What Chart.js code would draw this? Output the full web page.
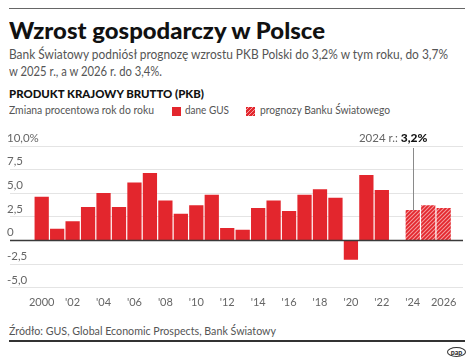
<!DOCTYPE html>
<html lang="pl">
<head>
<meta charset="utf-8">
<script src="https://cdn.jsdelivr.net/npm/chart.js@4/dist/chart.umd.min.js"></script>
<style>
  body { margin: 0; background: #fff; font-family: Lato, "Open Sans", sans-serif; }
  #page { position: relative; width: 474px; height: 364px; overflow: hidden; background: #fff; }
  .t { position: absolute; left: 9px; white-space: nowrap; transform-origin: 0 0; display: inline-block; }
  .rule { position: absolute; left: 9px; width: 456px; }
  #title { top: 16px; font-size: 23px; line-height: 28px; font-weight: 900; color: #111; }
  .sub { font-size: 13px; line-height: 17px; color: #555; }
  #head { top: 87px; font-size: 11px; line-height: 13px; font-weight: 900; color: #111; }
  .leg { top: 103px; font-size: 12px; line-height: 14px; color: #555; }
  .sq { position: absolute; top: 106.5px; width: 9px; height: 9px; }
  #source { top: 324px; font-size: 12px; line-height: 14px; color: #555; }
  #pap { position: absolute; left: 447px; top: 347px; width: 17px; height: 8px; border: 1.5px solid #333;
         border-radius: 50%; font: 900 7px/8px Lato, sans-serif; color: #333; text-align: center; }
  #box { position: absolute; left: 0; top: 128px; width: 474px; height: 190px; }
</style>
</head>
<body>
<div id="page">
  <div class="rule" style="top:8px;height:1px;background:#666;"></div>
  <div class="t" id="title" data-w="316">Wzrost gospodarczy w Polsce</div>
  <div class="t sub" style="top:46px" data-w="439">Bank Światowy podniósł prognozę wzrostu PKB Polski do 3,2% w tym roku, do 3,7%</div>
  <div class="t sub" style="top:63px" data-w="153">w 2025 r., a w 2026 r. do 3,4%.</div>
  <div class="t" id="head" data-w="195">PRODUKT KRAJOWY BRUTTO (PKB)</div>
  <div class="t leg" style="left:9px" data-w="145">Zmiana procentowa rok do roku</div>
  <div class="sq" style="left:172px;background:#e3262d;"></div>
  <div class="t leg" style="left:185px" data-w="44">dane GUS</div>
  <div class="sq" style="left:246px;background:repeating-linear-gradient(135deg,#e3262d 0 1.6px,#f4a0a2 1.6px 2.8px);"></div>
  <div class="t leg" style="left:260px" data-w="130">prognozy Banku Światowego</div>
  <div id="box"><canvas id="pkb_chart"></canvas></div>
  <div class="t" id="source" data-w="267">Źródło: GUS, Global Economic Prospects, Bank Światowy</div>
  <div class="rule" style="top:340px;height:2px;background:#333;"></div>
  <div id="pap">pap</div>
</div>
<script>
const years = [2000, 2001, 2002, 2003, 2004, 2005, 2006, 2007, 2008, 2009, 2010, 2011, 2012, 2013,
               2014, 2015, 2016, 2017, 2018, 2019, 2020, 2021, 2022, 2023, 2024, 2025, 2026];
// dane GUS, % r/r
const gus_values = [4.6, 1.2, 2.0, 3.5, 5.0, 3.5, 6.1, 7.1, 4.2, 2.8, 3.7, 4.8, 1.3, 1.1,
                    3.4, 4.2, 3.1, 4.8, 5.4, 4.5, -2.0, 6.9, 5.3, null, null, null, null];
// prognozy Banku Światowego
const forecast_values = [null, null, null, null, null, null, null, null, null, null, null, null, null, null,
                         null, null, null, null, null, null, null, null, null, null, 3.2, 3.7, 3.4];
const x_tick_years = [2000, 2002, 2004, 2006, 2008, 2010, 2012, 2014, 2016, 2018, 2020, 2022, 2024, 2026];
const y_ticks = [-5, -2.5, 0, 2.5, 5, 7.5, 10];
const note_year = 2024;
const note_value = 3.2;

const RED = '#e3262d';

function make_hatch() {
    var c = document.createElement('canvas');
    c.width = 4; c.height = 4;
    var g = c.getContext('2d');
    g.fillStyle = RED;
    g.fillRect(0, 0, 4, 4);
    g.strokeStyle = '#f49a9d';
    g.lineWidth = 1.1;
    g.beginPath();
    g.moveTo(0, 4); g.lineTo(4, 0);
    g.moveTo(-1, 1); g.lineTo(1, -1);
    g.moveTo(3, 5); g.lineTo(5, 3);
    g.stroke();
    return g.createPattern(c, 'repeat');
}

function points(values) {
    var out = [];
    for (var i = 0; i < years.length; i++) {
        if (values[i] !== null) out.push({x: years[i], y: values[i]});
    }
    return out;
}

function fmt_y(v) {
    if (v === 0) return '0';
    var s = v.toFixed(1).replace('.', ',');
    return v === 10 ? s + '%' : s;
}

function fit_texts() {
    document.querySelectorAll('[data-w]').forEach(function (el) {
        el.style.transform = 'none';
        var w = el.getBoundingClientRect().width;
        el.style.transform = 'scaleX(' + (parseFloat(el.dataset.w) / w) + ')';
    });
}

// zero line + callout for 2024
const overlay = {
    id: 'overlay',
    afterDatasetsDraw(chart) {
        var ctx = chart.ctx, xs = chart.scales.x, ys = chart.scales.y, a = chart.chartArea;
        var y0 = ys.getPixelForValue(0);
        ctx.save();
        ctx.strokeStyle = '#3a3a3a';
        ctx.lineWidth = 1.6;
        ctx.beginPath();
        ctx.moveTo(a.left, y0); ctx.lineTo(a.right, y0);
        ctx.stroke();

        var nx = Math.round(xs.getPixelForValue(note_year)) + 0.5;
        var top = ys.getPixelForValue(10);
        ctx.strokeStyle = '#8a8a8a';
        ctx.lineWidth = 1;
        ctx.beginPath();
        ctx.moveTo(nx, top + 2);
        ctx.lineTo(nx, ys.getPixelForValue(note_value));
        ctx.stroke();

        ctx.textBaseline = 'alphabetic';
        ctx.textAlign = 'left';
        ctx.font = '900 12px Lato';
        var bold = note_value.toFixed(1).replace('.', ',') + '%';
        var bw = ctx.measureText(bold).width;
        ctx.font = '11.5px Lato';
        var light = note_year + ' r.: ';
        var lw = ctx.measureText(light).width;
        var right = nx + 14;
        ctx.fillStyle = '#666';
        ctx.fillText(light, right - bw - lw, top - 4);
        ctx.font = '900 12px Lato';
        ctx.fillStyle = '#111';
        ctx.fillText(bold, right - bw, top - 4);
        ctx.restore();
    }
};

function create_chart() {
    const context = document.getElementById('pkb_chart');
    new Chart(context, {
        type: 'bar',
        data: {
            datasets: [{
                label: 'dane GUS',
                data: points(gus_values),
                backgroundColor: RED,
                barThickness: 13.6,
                grouped: false
            }, {
                label: 'prognozy Banku Światowego',
                data: points(forecast_values),
                backgroundColor: make_hatch(),
                barThickness: 13.6,
                grouped: false
            }]
        },
        options: {
            responsive: true,
            maintainAspectRatio: false,
            animation: false,
            events: [],
            layout: { padding: { left: 10, right: 11, top: 18, bottom: 1 } },
            plugins: { legend: { display: false }, tooltip: { enabled: false } },
            scales: {
                x: {
                    type: 'linear',
                    min: 1997.95,
                    max: 2027.25,
                    offset: false,
                    grid: { display: false, drawTicks: false },
                    border: { display: false },
                    afterBuildTicks: function (scale) {
                        scale.ticks = x_tick_years.map(function (v) { return {value: v}; });
                    },
                    ticks: {
                        padding: 8,
                        color: '#666',
                        maxRotation: 0,
                        autoSkip: false,
                        font: { family: 'Lato', size: 11 },
                        callback: function (v) {
                            return (v === 2000 || v === 2026) ? String(v) : "'" + String(v).slice(2);
                        }
                    }
                },
                y: {
                    min: -5,
                    max: 10,
                    afterBuildTicks: function (scale) {
                        scale.ticks = y_ticks.map(function (v) { return {value: v}; });
                    },
                    grid: {
                        drawTicks: false,
                        color: function (c) { return c.tick && c.tick.value === 0 ? 'rgba(0,0,0,0)' : '#e4e4e4'; },
                        lineWidth: 1
                    },
                    border: { display: false },
                    ticks: {
                        mirror: true,
                        padding: -1,
                        labelOffset: -8,
                        color: '#666',
                        font: { family: 'Lato', size: 11.5 },
                        callback: fmt_y
                    }
                }
            }
        },
        plugins: [overlay]
    });
}

window.onload = function () {
    fit_texts();
    create_chart();
};
</script>
</body>
</html>
